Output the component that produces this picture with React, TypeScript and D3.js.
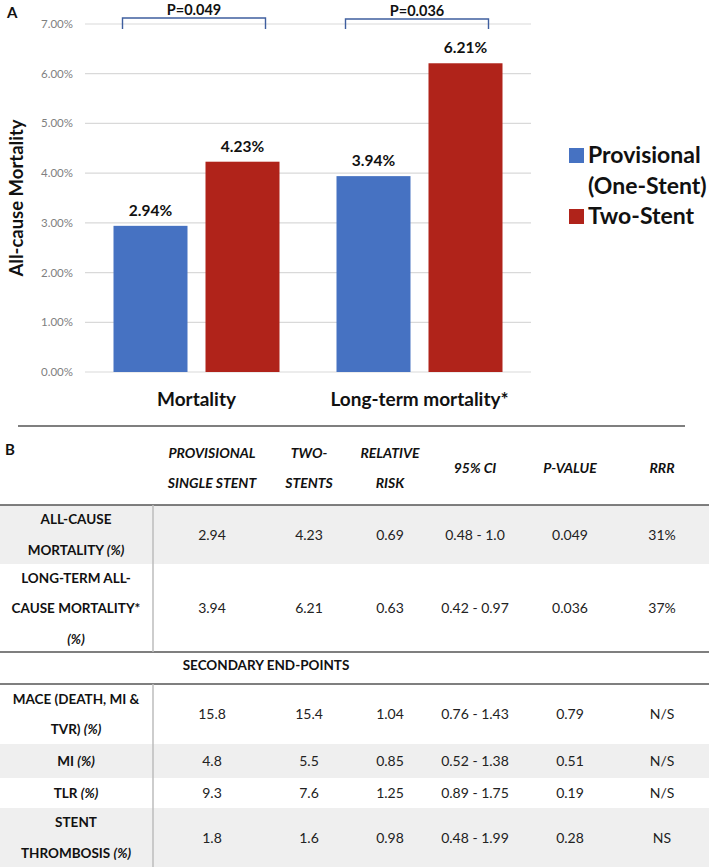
import React from "react";
import * as d3 from "d3";

// ---- Chart A data ----
const categories = ["Mortality", "Long-term mortality*"];
const provisional = [2.94, 3.94];
const twoStent = [4.23, 6.21];
const pLabels = ["P=0.049", "P=0.036"];
const yTicks = [0, 1, 2, 3, 4, 5, 6, 7];
const legendLines = [["Provisional", "(One-Stent)"], ["Two-Stent"]];

// ---- Table B data ----
const headers = [
  ["PROVISIONAL", "SINGLE STENT"],
  ["TWO-", "STENTS"],
  ["RELATIVE", "RISK"],
  ["95% CI"],
  ["P-VALUE"],
  ["RRR"],
];
// label lines: [plain text, italic text]
const rowLabels: [string, string][][] = [
  [["ALL-CAUSE", ""], ["MORTALITY ", "(%)"]],
  [["LONG-TERM ALL-", ""], ["CAUSE MORTALITY*", ""], ["", "(%)"]],
  [["MACE (DEATH, MI &", ""], ["TVR) ", "(%)"]],
  [["MI ", "(%)"]],
  [["TLR ", "(%)"]],
  [["STENT", ""], ["THROMBOSIS ", "(%)"]],
];
const colProvisional = ["2.94", "3.94", "15.8", "4.8", "9.3", "1.8"];
const colTwoStents = ["4.23", "6.21", "15.4", "5.5", "7.6", "1.6"];
const colRR = ["0.69", "0.63", "1.04", "0.85", "1.25", "0.98"];
const colCI = ["0.48 - 1.0", "0.42 - 0.97", "0.76 - 1.43", "0.52 - 1.38", "0.89 - 1.75", "0.48 - 1.99"];
const colP = ["0.049", "0.036", "0.79", "0.51", "0.19", "0.28"];
const colRRR = ["31%", "37%", "N/S", "N/S", "N/S", "NS"];
const sectionTitle = "SECONDARY END-POINTS";

const BLUE = "#4672c2";
const RED = "#b0231a";
const FONT = "Lato, 'Open Sans', sans-serif";

export default function App() {
  const plotLeft = 85, plotRight = 531, plotTop = 24, plotBottom = 372;
  const x0 = d3.scaleBand().domain(categories).range([plotLeft, plotRight]).paddingInner(0).paddingOuter(0);
  const y = d3.scaleLinear().domain([0, 7]).range([plotBottom, plotTop]);
  const barW = 74, barGap = 18;
  const seriesVals = [provisional, twoStent];
  const colors = [BLUE, RED];

  const barX = (ci: number, si: number) => {
    const c = (x0(categories[ci]) as number) + x0.bandwidth() / 2;
    return si === 0 ? c - barGap / 2 - barW : c + barGap / 2;
  };

  const colCenters = [212, 309, 390, 475, 570, 662];
  const labelCenter = 76;
  const rowBounds = [
    [505, 564],
    [564, 652],
    [684, 744],
    [744, 778],
    [778, 808],
    [808, 867],
  ];
  const rowShaded = [true, false, false, true, false, true];
  const lineGap = 30.5;
  const dataCols = [colProvisional, colTwoStents, colRR, colCI, colP, colRRR];

  const bracketTops = [18, 19];
  const legendTops = [148, 209];

  return (
    <svg width={709} height={867} style={{ position: "absolute", left: 0, top: 0, background: "#fff" }} fontFamily={FONT}>
      <text x={7} y={18} fontSize={15} fontWeight={700} fill="#111">A</text>
      {yTicks.map((t) => (
        <g key={t}>
          <line x1={plotLeft} x2={plotRight} y1={y(t)} y2={y(t)} stroke="#d9d9d9" strokeWidth={1.2} />
          <text x={73} y={y(t) + 4} textAnchor="end" fontSize={11.5} fill="#7f7f7f">
            {d3.format(".2f")(t) + "%"}
          </text>
        </g>
      ))}
      <text
        transform={`translate(23,${(plotTop + plotBottom) / 2}) rotate(-90)`}
        textAnchor="middle"
        fontSize={18.5}
        fontWeight={700}
        fill="#111"
      >
        All-cause Mortality
      </text>
      {categories.map((cat, ci) =>
        seriesVals.map((vals, si) => (
          <g key={cat + si}>
            <rect x={barX(ci, si)} y={y(vals[ci])} width={barW} height={y(0) - y(vals[ci])} fill={colors[si]} />
            <text
              x={barX(ci, si) + barW / 2}
              y={y(vals[ci]) - 10}
              textAnchor="middle"
              fontSize={15.5}
              fontWeight={700}
              fill="#111"
            >
              {vals[ci].toFixed(2) + "%"}
            </text>
          </g>
        ))
      )}
      {categories.map((cat) => (
        <text
          key={cat}
          x={(x0(cat) as number) + x0.bandwidth() / 2}
          y={406}
          textAnchor="middle"
          fontSize={19}
          fontWeight={700}
          fill="#111"
        >
          {cat}
        </text>
      ))}
      {categories.map((cat, ci) => {
        const xa = barX(ci, 0) + 9;
        const xb = barX(ci, 1) + barW - 14;
        const top = bracketTops[ci];
        return (
          <g key={"p" + ci}>
            <path d={`M${xa},29 V${top} H${xb} V29`} fill="none" stroke="#3f5f9f" strokeWidth={1.4} />
            <text x={(xa + xb) / 2} y={top - 3} textAnchor="middle" fontSize={14.5} fontWeight={700} fill="#111">
              {pLabels[ci]}
            </text>
          </g>
        );
      })}
      {legendLines.map((lines, si) => (
        <g key={"lg" + si}>
          <rect x={569} y={legendTops[si]} width={15} height={15} fill={colors[si]} />
          {lines.map((ln, li) => (
            <text key={li} x={588} y={legendTops[si] + 15 + li * 31} fontSize={23} fontWeight={700} fill="#111">
              {ln}
            </text>
          ))}
        </g>
      ))}

      <line x1={18} x2={685} y1={426} y2={426} stroke="#555" strokeWidth={1.3} />
      <text x={5} y={455} fontSize={15} fontWeight={700} fill="#111">B</text>
      {headers.map((h, i) =>
        h.map((line, li) => (
          <text
            key={i + "-" + li}
            x={colCenters[i]}
            y={h.length === 1 ? 473 : 458 + li * 30}
            textAnchor="middle"
            fontSize={14}
            fontWeight={700}
            fontStyle="italic"
            fill="#111"
          >
            {line}
          </text>
        ))
      )}
      {rowBounds.map((b, i) =>
        rowShaded[i] ? <rect key={"bg" + i} x={0} y={b[0]} width={709} height={b[1] - b[0]} fill="#efefef" /> : null
      )}
      <line x1={0} x2={709} y1={505} y2={505} stroke="#555" strokeWidth={1.3} />
      <line x1={0} x2={709} y1={652} y2={652} stroke="#555" strokeWidth={1.3} />
      <line x1={0} x2={709} y1={684} y2={684} stroke="#555" strokeWidth={1.3} />
      <line x1={153} x2={153} y1={505} y2={652} stroke="#bdbdbd" strokeWidth={1.5} />
      <line x1={153} x2={153} y1={684} y2={867} stroke="#bdbdbd" strokeWidth={1.5} />
      <text x={266} y={670} textAnchor="middle" fontSize={13.5} fontWeight={700} fill="#111">
        {sectionTitle}
      </text>
      {rowLabels.map((lines, ri) => {
        const [t, b] = rowBounds[ri];
        const mid = (t + b) / 2;
        const first = mid - ((lines.length - 1) * lineGap) / 2;
        return (
          <g key={"row" + ri}>
            {lines.map((ln, li) => (
              <text
                key={li}
                x={labelCenter}
                y={first + li * lineGap + 5}
                textAnchor="middle"
                fontSize={13.5}
                fontWeight={700}
                fill="#111"
              >
                {ln[0]}
                {ln[1] ? <tspan fontStyle="italic">{ln[1]}</tspan> : null}
              </text>
            ))}
            {dataCols.map((col, ci) => (
              <text key={"c" + ci} x={colCenters[ci]} y={mid + 5} textAnchor="middle" fontSize={14} fill="#222">
                {col[ri]}
              </text>
            ))}
          </g>
        );
      })}
    </svg>
  );
}
